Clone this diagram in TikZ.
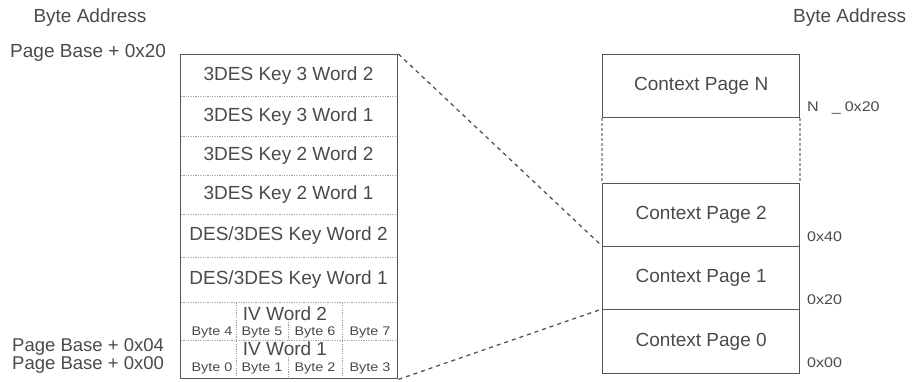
\documentclass[tikz,border=0pt]{standalone}
\usepackage{fontspec}
\setmainfont{Liberation Sans}
\newfontfamily\widefont[FakeStretch=1.15]{Liberation Sans}
\definecolor{framec}{HTML}{555555}
\definecolor{txtc}{HTML}{4A4A4A}
\definecolor{divc}{HTML}{A0A0A0}
\begin{document}
\begin{tikzpicture}[x=1pt,y=-1pt,
  txt/.style={text=txtc, font=\fontsize{19}{21}\selectfont, inner sep=0pt},
  small/.style={text=txtc, font=\widefont\fontsize{12.5}{13}\selectfont, inner sep=0pt},
  addr/.style={text=txtc, font=\widefont\fontsize{14}{15}\selectfont, inner sep=0pt, anchor=west},
  frame/.style={draw=framec, line width=1.4pt, inner sep=0pt},
  pagebox/.style={draw=framec, line width=1.4pt, minimum width=197pt, minimum height=63pt, anchor=north west, text=txtc, font=\fontsize{19}{21}\selectfont, inner sep=0pt},
  div/.style={draw=divc, line width=0.7pt, dash pattern=on 1.2pt off 1.2pt},
  sides/.style={draw=divc, line width=2pt, dash pattern=on 2.5pt off 2.5pt},
  conn/.style={draw=framec, line width=1.3pt, dash pattern=on 4pt off 4pt}]
\useasboundingbox (0,0) rectangle (922,381);

% left labels
\node[txt] (ba1) at (90,18) {Byte Address};
\node[txt, anchor=west] (pb20) at (10,53) {Page Base + 0x20};
\node[txt, anchor=west, font=\fontsize{18.5}{20}\selectfont] (pb04) at (12,347) {Page Base + 0x04};
\node[txt, anchor=west, font=\fontsize{18.5}{20}\selectfont] (pb00) at (12,365) {Page Base + 0x00};

% left table frame
\node[frame, minimum width=217pt, minimum height=324pt, anchor=north west] (L) at (180,54) {};

% row dividers
\foreach \yy in {96.7,136.7,175,214.5,257,302.7,340}
  \draw[div] (181,\yy) -- (396,\yy);
% byte column dividers
\draw[div] (236.7,302.7) -- (236.7,377);
\draw[div] (342,302.7) -- (342,377);
\draw[div] (288,322) -- (288,340);
\draw[div] (288,357) -- (288,377);

% row texts
\node[txt] (r1) at (288.5,75.5) {3DES Key 3 Word 2};
\node[txt] (r2) at (288.5,116.7) {3DES Key 3 Word 1};
\node[txt] (r3) at (288.5,155.9) {3DES Key 2 Word 2};
\node[txt] (r4) at (288.5,194.8) {3DES Key 2 Word 1};
\node[txt] (r5) at (288.5,236) {DES/3DES Key Word 2};
\node[txt] (r6) at (288.5,280) {DES/3DES Key Word 1};
\node[txt] (iv2) at (285,314) {IV Word 2};
\node[txt] (iv1) at (285,349) {IV Word 1};
\node[small] (b4) at (212,332) {Byte 4};
\node[small] (b5) at (262,332) {Byte 5};
\node[small] (b6) at (315,332) {Byte 6};
\node[small] (b7) at (370,332) {Byte 7};
\node[small] (b0) at (212,368) {Byte 0};
\node[small] (b1) at (262,368) {Byte 1};
\node[small] (b2) at (315,368) {Byte 2};
\node[small] (b3) at (370,368) {Byte 3};

% right table
\node[pagebox] (PN) at (602,54) {Context Page N};
\node[pagebox] (P2) at (602,183) {Context Page 2};
\node[pagebox] (P1) at (602,246) {Context Page 1};
\node[pagebox, minimum height=64pt] (P0) at (602,309) {Context Page 0};
\draw[sides] (PN.south west) -- (P2.north west);
\draw[sides] (PN.south east) -- (P2.north east);

% right labels
\node[txt, anchor=west] (ba2) at (793,18) {Byte Address};
\node[addr] (aN) at (807,108) {N\hspace{13pt}\_\hspace{4pt}0x20};
\node[addr] (a40) at (807,237) {0x40};
\node[addr] (a20) at (807,300) {0x20};
\node[addr] (a00) at (807,363) {0x00};

% connectors
\draw[conn] (L.north east) -- (P1.north west);
\draw[conn] (L.south east) -- (P0.north west);
\end{tikzpicture}
\end{document}
